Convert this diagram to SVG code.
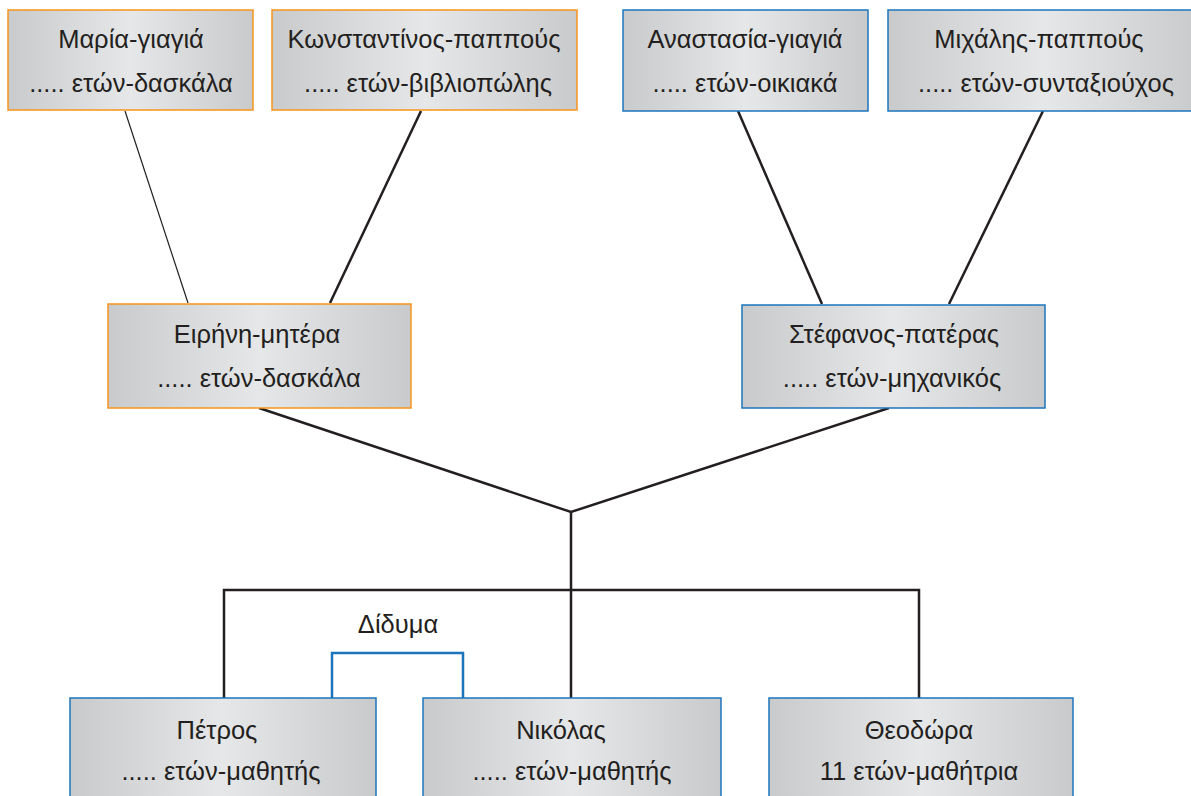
<svg xmlns="http://www.w3.org/2000/svg" width="1191" height="796" viewBox="0 0 1191 796">
<defs>
<linearGradient id="g" x1="0" y1="0" x2="1" y2="0">
<stop offset="0" stop-color="#c9cacc"/>
<stop offset="0.5" stop-color="#e6e7e8"/>
<stop offset="1" stop-color="#c9cacc"/>
</linearGradient>
<style>
.bo{fill:url(#g);stroke:#f7941d;stroke-width:1.5}
.bb{fill:url(#g);stroke:#1c75bc;stroke-width:1.5}
text{font-family:"Liberation Sans",Arial,sans-serif;font-size:25.5px;fill:#231f20;text-anchor:middle}
.c{stroke:#231f20;stroke-width:2.5;fill:none}
.t{stroke:#231f20;stroke-width:1.2;fill:none}
.tw{stroke:#1c75bc;stroke-width:2.5;fill:none}
</style>
</defs>
<rect width="1191" height="796" fill="#fff"/>
<g id="connectors">
<line class="t" x1="125" y1="111" x2="188" y2="303"/>
<line class="c" x1="421" y1="111" x2="330" y2="303"/>
<line class="c" x1="738" y1="111" x2="822" y2="304"/>
<line class="c" x1="1043" y1="111" x2="949" y2="304"/>
<polyline class="c" points="259,408 571,512 889,408"/>
<line class="c" x1="571" y1="512" x2="571" y2="698"/>
<polyline class="c" points="224,698 224,590 919,590 919,698"/>
<polyline class="tw" points="332,698 332,653 463,653 463,698"/>
<text x="398" y="633">Δίδυμα</text>
</g>
<g id="maria"><rect class="bo" x="8" y="10" width="245" height="100"/><text x="131" y="48">Μαρία-γιαγιά</text><text x="131" y="92">..... ετών-δασκάλα</text></g>
<g id="konstantinos"><rect class="bo" x="272" y="10" width="305" height="100"/><text x="424" y="48">Κωνσταντίνος-παππούς</text><text x="428" y="92">..... ετών-βιβλιοπώλης</text></g>
<g id="anastasia"><rect class="bb" x="623" y="10" width="245" height="101"/><text x="745" y="48">Αναστασία-γιαγιά</text><text x="745" y="92">..... ετών-οικιακά</text></g>
<g id="michalis"><rect class="bb" x="888" y="10" width="312" height="101"/><text x="1039" y="48">Μιχάλης-παππούς</text><text x="1046" y="92">..... ετών-συνταξιούχος</text></g>
<g id="eirini"><rect class="bo" x="108" y="304" width="303" height="104"/><text x="257" y="343">Ειρήνη-μητέρα</text><text x="259" y="387">..... ετών-δασκάλα</text></g>
<g id="stefanos"><rect class="bb" x="742" y="305" width="303" height="103"/><text x="894" y="343">Στέφανος-πατέρας</text><text x="892" y="387">..... ετών-μηχανικός</text></g>
<g id="petros"><rect class="bb" x="70" y="698" width="306" height="110"/><text x="217" y="739">Πέτρος</text><text x="221" y="780">..... ετών-μαθητής</text></g>
<g id="nikolas"><rect class="bb" x="423" y="698" width="298" height="110"/><text x="561" y="739">Νικόλας</text><text x="572" y="780">..... ετών-μαθητής</text></g>
<g id="theodora"><rect class="bb" x="769" y="698" width="304" height="110"/><text x="919" y="739">Θεοδώρα</text><text x="919" y="780">11 ετών-μαθήτρια</text></g>
</svg>
